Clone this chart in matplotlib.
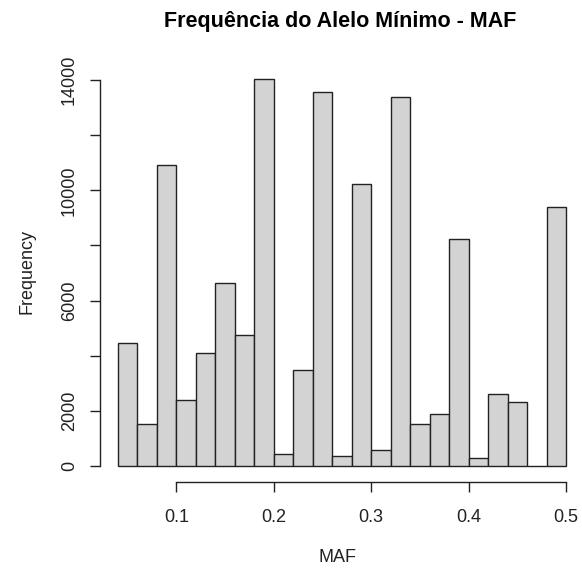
import matplotlib
matplotlib.use("Agg")
import matplotlib.pyplot as plt
import numpy as np

plt.rcParams.update({
    "font.family": ["Liberation Sans", "DejaVu Sans"],
    "font.size": 13,
})

# histogram bins (MAF) and counts
bin_edges = np.round(np.arange(0.04, 0.5001, 0.02), 2)
counts = [4450, 1520, 10920, 2380, 4090, 6630, 4740, 14040, 450, 3470,
          13550, 360, 10220, 580, 13390, 1510, 1900, 8240, 290, 2600,
          2310, 0, 9400]
x_ticks = [0.1, 0.2, 0.3, 0.4, 0.5]
y_ticks = [0, 2000, 4000, 6000, 8000, 10000, 12000, 14000]
y_labels = ["0", "2000", "", "6000", "", "10000", "", "14000"]

W, H = 582, 576
fig = plt.figure(figsize=(W / 100, H / 100), dpi=100)
ax = fig.add_axes([100 / W, (H - 481.5) / H, 484 / W, 418 / H])

ax.bar(bin_edges[:-1], counts, width=np.diff(bin_edges), align="edge",
       color="#D3D3D3", edgecolor="#222222", linewidth=1.0)

# R-style 4% padding
xr = bin_edges[-1] - bin_edges[0]
ax.set_xlim(bin_edges[0] - 0.04 * xr, bin_edges[-1] + 0.04 * xr)
ymax = max(counts)
ax.set_ylim(-0.04 * ymax, 1.04 * ymax)

for s in ["top", "right"]:
    ax.spines[s].set_visible(False)
ax.spines["left"].set_bounds(0, 14000)
ax.spines["bottom"].set_bounds(0.1, 0.5)
for s in ["left", "bottom"]:
    ax.spines[s].set_color("#222222")
    ax.spines[s].set_linewidth(1.0)

ax.set_xticks(x_ticks)
ax.set_xticklabels([f"{v:.1f}" for v in x_ticks])
ax.set_yticks(y_ticks)
ax.set_yticklabels(y_labels, rotation=90, va="center")
ax.tick_params(axis="both", length=7, width=1.0, color="#222222",
               labelsize=13, labelcolor="#222222", pad=9)
ax.tick_params(axis="x", pad=13)

fig.text(340 / W, 1 - 21 / H, "Frequência do Alelo Mínimo - MAF",
         ha="center", va="center", fontsize=15.5, fontweight="bold")
fig.text(337 / W, 1 - 557 / H, "MAF", ha="center", va="center",
         fontsize=13, color="#222222")
fig.text(27 / W, 1 - 272 / H, "Frequency", ha="center", va="center",
         rotation=90, fontsize=13, color="#222222")

fig.savefig("out.png", dpi=100)
